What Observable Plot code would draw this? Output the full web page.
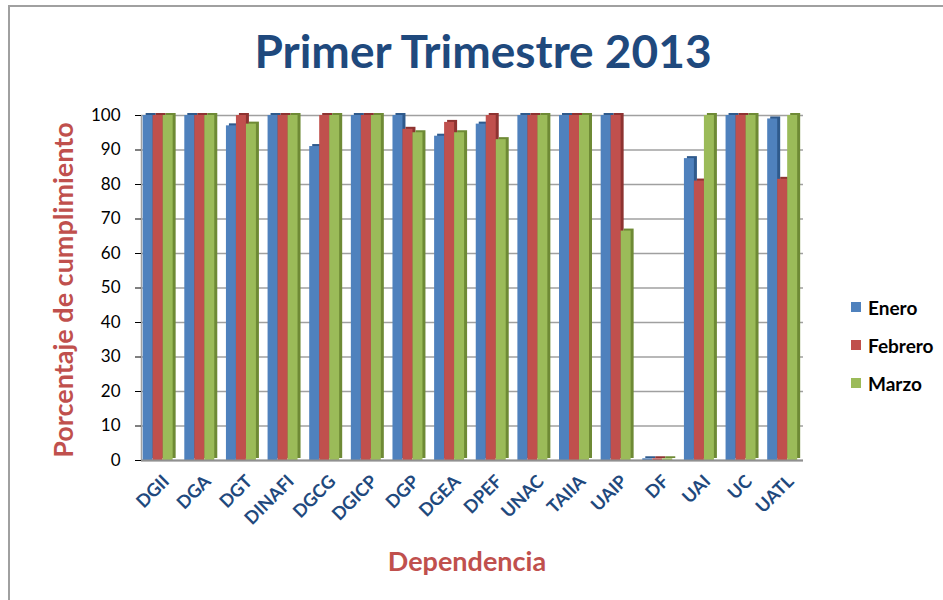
<!DOCTYPE html>
<html>
<head>
<meta charset="utf-8">
<script src="https://cdn.jsdelivr.net/npm/d3@7"></script>
<script src="https://cdn.jsdelivr.net/npm/@observablehq/plot@0.6"></script>
<style>
  body { margin: 0; background: #fff; font-family: Lato, "Open Sans", sans-serif; }
  #wrap { position: relative; width: 943px; height: 600px; overflow: hidden; }
  #border { position: absolute; left: 8px; top: 5px; width: 960px; height: 620px; border-left: 2px solid #a0a0a0; border-top: 2px solid #a0a0a0; }
  #title { position: absolute; left: 483px; top: 28px; transform: translateX(-50%); white-space: nowrap; font: bold 46px Lato, sans-serif; color: #1F497D; line-height: 1; }
  #ylabel { position: absolute; left: 62px; top: 290px; transform: translate(-50%, -50%) rotate(-90deg); white-space: nowrap; font: bold 27px Lato, sans-serif; color: #C0504D; }
  #xlabel { position: absolute; left: 467px; top: 560px; transform: translate(-50%, -50%); white-space: nowrap; font: bold 27px Lato, sans-serif; color: #C0504D; }
  #chart { position: absolute; left: 0; top: 90px; }
  #legend { position: absolute; left: 851px; top: 288px; font: bold 19px Lato, sans-serif; color: #000; }
  .item { display: flex; align-items: center; height: 38px; }
  .sw { width: 10px; height: 10px; margin-right: 7px; }
</style>
</head>
<body>
<div id="wrap">
  <div id="border"></div>
  <div id="title">Primer Trimestre 2013</div>
  <div id="ylabel">Porcentaje de cumplimiento</div>
  <div id="chart"></div>
  <div id="xlabel">Dependencia</div>
  <div id="legend"></div>
</div>
<script>
const deps = ["DGII","DGA","DGT","DINAFI","DGCG","DGICP","DGP","DGEA","DPEF","UNAC","TAIIA","UAIP","DF","UAI","UC","UATL"];
const enero   = [100,100,97,100,91,100,100,94,97.5,100,100,100,0.5,87.5,100,99];
const febrero = [100,100,100,100,100,100,96,98,100,100,100,100,0.5,81,100,81.5];
const marzo   = [100,100,97.5,100,100,100,95,95,93,100,100,66.5,0.5,100,100,100];
const months = ["Enero","Febrero","Marzo"];
const colors = ["#4F81BD","#C0504D","#9BBB59"];
const sideColors = ["#2F5A8C","#8E3331","#6E8A35"];
const yTicks = [0,10,20,30,40,50,60,70,80,90,100];

const series = [enero, febrero, marzo];
const data = deps.flatMap((dep, i) => series.map((arr, m) => ({dep, i, m, month: months[m], value: arr[i]})));
const xDomain = [-0.4, 15.5];
const bw = 0.24;
const bx1 = d => d.i - 1.5 * bw + d.m * bw;
const bx2 = d => d.i - 0.5 * bw + d.m * bw;

const chart = Plot.plot({
  width: 943,
  height: 510,
  marginTop: 25,
  marginBottom: 140,
  marginLeft: 141,
  marginRight: 140,
  style: {fontFamily: "Lato, sans-serif", background: "transparent"},
  x: {type: "linear", domain: xDomain, axis: null},
  y: {domain: [0, 100], axis: null},
  color: {domain: months, range: colors},
  marks: [
    Plot.ruleY(yTicks, {stroke: "#a0a0a0", strokeWidth: 1.5}),
    Plot.ruleX([xDomain[0]], {y1: 0, y2: 100, stroke: "#a0a0a0", strokeWidth: 1.5}),
    ...months.map((mo, m) => Plot.rectY(data.filter(d => d.m === m), {x1: bx1, x2: bx2, y1: 0, y2: "value", fill: sideColors[m], dx: 3, dy: -2})),
    Plot.rectY(data, {x1: bx1, x2: bx2, y1: 0, y2: "value", fill: "month"}),
    Plot.ruleY([0], {stroke: "#909090", strokeWidth: 2}),
    Plot.axisY({ticks: yTicks, tickSize: 6, tickPadding: 15, fontSize: 17, label: null, color: "#000"}),
    Plot.axisX({ticks: d3.range(deps.length), tickFormat: i => deps[i], tickRotate: -45, tickSize: 0, tickPadding: 18, dx: 8, fontSize: 18, fontWeight: "bold", label: null, color: "#1F497D"})
  ]
});
document.getElementById("chart").appendChild(chart);

const legend = document.getElementById("legend");
months.forEach((mo, m) => {
  const it = document.createElement("div");
  it.className = "item";
  const sw = document.createElement("div");
  sw.className = "sw";
  sw.style.background = colors[m];
  const tx = document.createElement("span");
  tx.textContent = mo;
  it.appendChild(sw); it.appendChild(tx);
  legend.appendChild(it);
});
</script>
</body>
</html>
